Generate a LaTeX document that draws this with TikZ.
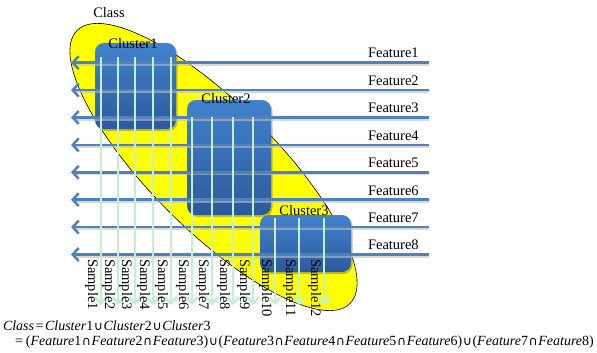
\documentclass[tikz,border=0pt]{standalone}
\usepackage{fontspec}
\setmainfont{Liberation Serif}
\newfontfamily\opsfont{DejaVu Sans}
\newcommand{\opcup}{\kern0.6pt{\opsfont\fontsize{12.5}{14}\selectfont ∪}\kern0.6pt}
\newcommand{\opcap}{\kern0.6pt{\opsfont\fontsize{12.5}{14}\selectfont ∩}\kern0.6pt}
\usetikzlibrary{arrows.meta,shapes.geometric,shadows}
\definecolor{featblue}{RGB}{79,129,189}
\definecolor{sampgreen}{RGB}{196,240,210}
\definecolor{cltop}{RGB}{66,130,205}
\definecolor{clbot}{RGB}{44,90,156}
\definecolor{classyellow}{RGB}{255,255,0}
\begin{document}
\begin{tikzpicture}[x=1pt,y=-1pt,
  lbl/.style={font=\fontsize{14.5}{17}\selectfont, inner sep=0pt, outer sep=0pt, text=black},
  eqfont/.style={font=\fontsize{14}{16}\selectfont, inner sep=0pt, outer sep=0pt, text=black},
  classell/.style={ellipse, draw=black, line width=0.6pt, fill=classyellow,
    minimum width=386pt, minimum height=126pt, inner sep=0pt, outer sep=0pt, rotate=-45},
  clusterbox/.style={rectangle, rounded corners=9pt, top color=cltop, bottom color=clbot,
    draw=none, inner sep=0pt, outer sep=0pt,
    drop shadow={shadow xshift=1.5pt, shadow yshift=-2pt, opacity=0.35, fill=black!70}},
  featshadow/.style={draw=black!25, line width=2pt, opacity=0.6},
  featline/.style={draw=featblue, line width=2.5pt,
    -{Straight Barb[length=6pt,width=13pt,line width=2.5pt]}},
  sampline/.style={draw=sampgreen, line width=2.5pt,
    -{Straight Barb[length=6pt,width=12pt,line width=2.5pt]}}
]
\useasboundingbox (0,0) rectangle (597,353);
\fill[white] (0,0) rectangle (597,353);

% class region
\node[classell] (class) at (213.5,167) {};
\node[lbl] (classlab) at (109,13) {Class};

% clusters
\node[clusterbox, minimum width=81pt, minimum height=86pt] (c1) at (135.5,86) {};
\node[clusterbox, minimum width=84pt, minimum height=115pt] (c2) at (229,157.5) {};
\node[clusterbox, minimum width=91pt, minimum height=57pt] (c3) at (305.5,243.5) {};
\node[lbl] (c1lab) at (133,44) {Cluster1};
\node[lbl] (c2lab) at (226,99) {Cluster2};
\node[lbl] (c3lab) at (304,211) {Cluster3};

% features
\foreach \i in {1,...,8} {
  \pgfmathsetmacro\yy{62.7+27.4*(\i-1)}
  \coordinate (fr\i) at (429,\yy);
  \coordinate (fl\i) at (71,\yy);
  \coordinate (frs\i) at (429,\yy+2);
  \coordinate (fls\i) at (76,\yy+2);
  \draw[featshadow] (frs\i) -- (fls\i);
  \draw[featline] (fr\i) -- (fl\i);
  \node[lbl, anchor=base west] (flab\i) at (368,\yy-4.7) {Feature\i};
}

% samples
\foreach \i/\xx/\ys in {1/101/57, 2/118/57, 3/135/57, 4/153/57, 5/171/57,
    6/192/117, 7/212/117, 8/233/117, 9/253/117,
    10/275/218, 11/299/218, 12/324/218} {
  \coordinate (st\i) at (\xx,\ys);
  \coordinate (se\i) at (\xx,305);
  \draw[sampline] (st\i) -- (se\i);
  \node[lbl, rotate=-90, anchor=base west] (slab\i) at (\xx-13,259) {Sample\i};
}

% equation
\node[eqfont, anchor=base west] (eq1) at (3,330)
  {\textit{Class}\kern1.5pt=\kern1.5pt\textit{Cluster}1\opcup\textit{Cluster}2\opcup\textit{Cluster}3};
\node[eqfont, anchor=base west] (eq2) at (15,345.5)
  {=\kern3pt(\textit{Feature}1\opcap\textit{Feature}2\opcap\textit{Feature}3)\opcup(\textit{Feature}3\opcap\textit{Feature}4\opcap\textit{Feature}5\opcap\textit{Feature}6)\opcup(\textit{Feature}7\opcap\textit{Feature}8)};
\end{tikzpicture}
\end{document}
